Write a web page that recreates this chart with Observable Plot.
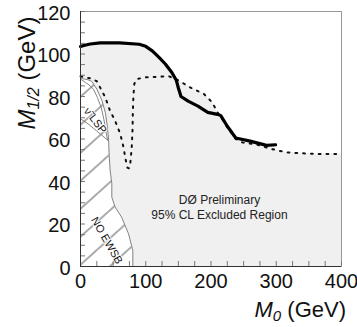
<!DOCTYPE html>
<html><head><meta charset="utf-8">
<script src="https://cdn.jsdelivr.net/npm/d3@7"></script>
<script src="https://cdn.jsdelivr.net/npm/@observablehq/plot@0.6"></script>
<style>body{margin:0;background:#fff} svg{display:block}</style>
</head><body><div id="chart"></div>
<script>
// D0 95% CL limit (solid) in the M0 - M1/2 plane
const solidLimit = [[0,103.5],[5,104],[15,104.7],[30,105.2],[60,105.2],[90,104.6],[100,103.6],[110,101.5],[120,98.5],[130,95.3],[140,91.3],[147,87.5],[150,84],[154,80],[165,77.8],[180,75.5],[195,72.5],[210,71.6],[215,71],[225,66],[238,60.5],[260,59],[285,57],[299,57.3]];
// dotted limit
const dottedLimit = [[0,89.5],[15,88.5],[25,87.2],[30,84.3],[38,79.6],[45,73.5],[53,68.6],[61,62.4],[66,56],[69,50.5],[72,46.5],[74,46.2],[76,47.5],[78.5,56],[79.7,64],[80.2,72],[81,79.6],[82.5,86],[86,88.2],[99,89],[120,89.3],[135,89.6],[150,87.6],[168,84.3],[189,81.2],[202,77.2],[210,72.5],[215,70.5],[225,65.5],[238,60],[248,58.4],[271,57.3],[290,55.5],[304,54.5],[317,53.7],[337,53.3],[363,53],[400,53]];
// theoretically forbidden region boundary (hatched)
const hatchBoundary = [[0,88.5],[10,88],[17,87.2],[25,83.5],[33,78],[38,72.5],[41,66.3],[43,60],[44,52],[45.5,45],[48,39],[48,32.6],[53,28],[63,23.2],[73.6,15.4],[80.2,7.5],[80.2,0]];
const lspUpper = [[0,88.2],[8,86.5],[15,85],[20,83.3],[26,79.5],[32,74.5],[36,69],[39,63.5],[41.5,59.5]];
const lspLower = [[0,69.5],[10,67.5],[20,65],[30,62.5],[41.5,59.5]];
const xTicks = [0,100,200,300,400];
const yTicks = [0,20,40,60,80,100,120];
const xMinorTicks = d3.range(0, 401, 25);
const yMinorTicks = d3.range(0, 121, 5);
const noteText = [{x:213, y:31, text:"DØ Preliminary"},{x:213, y:24, text:"95% CL Excluded Region"}];
const regionLabels = [{x:22.5, y:68.6, text:"ν\u0303 LSP", angle:52},{x:40.3, y:12.2, text:"NO EWSB", angle:60}];

const W = 357, H = 327, mL = 80, mR = 16, mT = 11, mB = 61;
const innerW = W - mL - mR, innerH = H - mT - mB;
const gx = d => d[0], gy = d => d[1];

const svg = Plot.plot({
  width: W, height: H,
  marginLeft: mL, marginRight: mR, marginTop: mT, marginBottom: mB,
  x: {domain: [0, 400]},
  y: {domain: [0, 120]},
  style: {fontFamily: "'Liberation Sans', Arial, Helvetica, sans-serif", background: "white", color: "#111"},
  marks: [
    Plot.areaY(solidLimit, {x: gx, y: gy, fill: "#f0f0f0"}),
    Plot.areaY(dottedLimit, {x: gx, y: gy, fill: "#f0f0f0"}),
    Plot.areaX(hatchBoundary, {x1: 0, x2: gx, y: gy, fill: "url(#hatch)"}),
    Plot.line(hatchBoundary, {x: gx, y: gy, stroke: "#777", strokeWidth: 0.9}),
    Plot.line(lspUpper, {x: gx, y: gy, stroke: "#777", strokeWidth: 0.9}),
    Plot.line(lspLower, {x: gx, y: gy, stroke: "#777", strokeWidth: 0.9}),
    Plot.text(regionLabels, {x: "x", y: "y", text: "text", rotate: "angle", fontSize: 11, fill: "#111", stroke: "white", strokeWidth: 2, paintOrder: "stroke"}),
    Plot.line(dottedLimit, {x: gx, y: gy, stroke: "#111", strokeWidth: 2, strokeDasharray: "1.8,6"}),
    Plot.line(solidLimit, {x: gx, y: gy, stroke: "#000", strokeWidth: 3.2, strokeLinejoin: "round"}),
    Plot.text(noteText, {x: "x", y: "y", text: "text", fontSize: 12, fill: "#222"}),
    Plot.frame({stroke: "#999"}),
    Plot.ruleX(xMinorTicks, {x: d => d, insetTop: innerH - 5, stroke: "#777"}),
    Plot.ruleY(yMinorTicks, {y: d => d, insetRight: innerW - 5, stroke: "#777"}),
    Plot.ruleX([0], {stroke: "#333"}),
    Plot.ruleY([0], {stroke: "#333"}),
    Plot.axisX({ticks: xTicks, tickSize: 0, tickPadding: 7, fontSize: 20, label: null, tickFormat: d => String(d)}),
    Plot.axisY({ticks: yTicks, tickSize: 0, tickPadding: 10, fontSize: 20, label: null, dy: 2, tickFormat: d => String(d)})
  ]
});

const s = d3.select(svg);
const defs = s.insert("defs", ":first-child");
const pat = defs.append("pattern").attr("id", "hatch").attr("patternUnits", "userSpaceOnUse")
  .attr("width", 10).attr("height", 20.8).attr("patternTransform", "rotate(-42)");
pat.append("rect").attr("width", 10).attr("height", 20.8).attr("fill", "white");
pat.append("line").attr("x1", 0).attr("x2", 10).attr("y1", 1).attr("y2", 1).attr("stroke", "#444").attr("stroke-width", 0.9);

const yl = s.append("text").attr("transform", "translate(35,73) rotate(-90)")
  .attr("text-anchor", "middle").attr("font-size", 24).attr("fill", "#111");
yl.append("tspan").attr("font-style", "italic").text("M");
yl.append("tspan").attr("font-style", "italic").attr("font-size", 16).attr("dy", 3.5).text("1/2");
yl.append("tspan").attr("dy", -3.5).text(" (GeV)");

const xl = s.append("text").attr("x", 346).attr("y", 317)
  .attr("text-anchor", "end").attr("font-size", 22).attr("fill", "#111");
xl.append("tspan").attr("font-style", "italic").text("M");
xl.append("tspan").attr("font-style", "italic").attr("font-size", 15).attr("dy", 4).text("0");
xl.append("tspan").attr("dy", -4).text(" (GeV)");

document.getElementById("chart").appendChild(svg);
</script>
</body></html>
